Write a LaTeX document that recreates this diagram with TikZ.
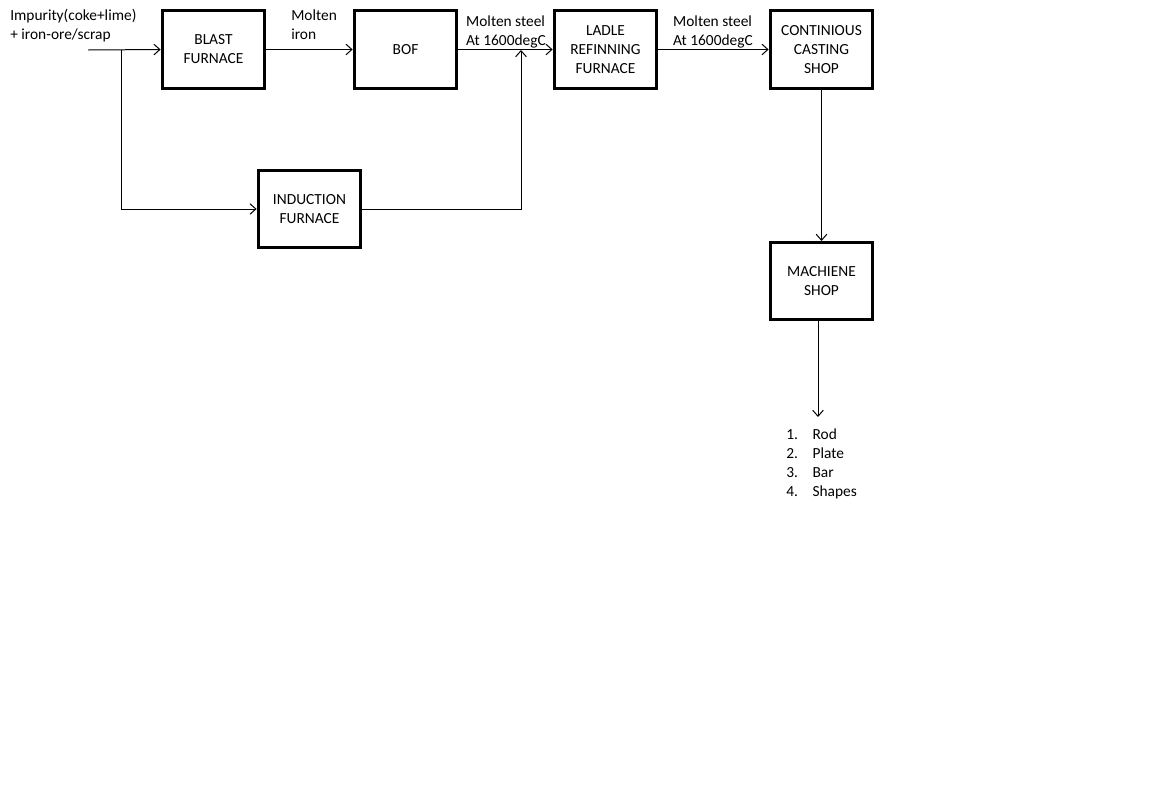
\documentclass[tikz,border=0pt]{standalone}
\usepackage{fontspec}
\setmainfont{Carlito}
\usepackage{tikz}
\usetikzlibrary{arrows.meta}

\begin{document}
\begin{tikzpicture}[x=0.02646cm,y=-0.02646cm,
  font=\fontsize{11.6}{14.3}\selectfont,
  unit/.style={draw,line width=2.2pt,minimum width=2.72cm,minimum height=2.04cm,align=center,inner sep=1pt},
  flow/.style={line width=0.75pt,-{Straight Barb[length=4.5pt,width=8pt,line width=0.75pt]}},
  note/.style={inner sep=0pt,align=left}]
\useasboundingbox (0,0) rectangle (1171,789);

% process units
\node[unit] (blast) at (213.5,49.5) {BLAST\\FURNACE};
\node[unit] (bof) at (405.5,49.5) {BOF};
\node[unit] (ladle) at (605.5,49.5) {LADLE\\REFINNING\\FURNACE};
\node[unit] (cast) at (821.5,49.5) {CONTINIOUS\\CASTING\\SHOP};
\node[unit] (induction) at (309.5,209) {INDUCTION\\FURNACE};
\node[unit] (machine) at (821.5,281) {MACHIENE\\SHOP};

% labels
\node[note,anchor=west] (feed) at (10,26) {Impurity(coke+lime)\\+ iron-ore/scrap};
\node[note,anchor=west] (iron) at (291,24.5) {Molten\\iron};
\node[note] (steel1) at (506,32) {Molten steel\\At 1600degC};
\node[note] (steel2) at (713,32) {Molten steel\\At 1600degC};
\node[note,anchor=west] (products) at (786,464.5) {\begin{tabular}{@{}l@{\hspace{11pt}}l@{}}
1. & Rod\\
2. & Plate\\
3. & Bar\\
4. & Shapes
\end{tabular}};

\coordinate (in) at (88,50);
\coordinate (split) at (121,50);
\coordinate (join) at (521,50);
\coordinate (out) at (818,417);

% connectors
\draw[flow] (in) -- (blast.west);
\draw[flow] (split) |- (induction.west);
\draw[flow] (blast.east) -- (bof.west);
\draw[flow] (bof.east) -- (ladle.west);
\draw[flow] (induction.east) -| (join);
\draw[flow] (ladle.east) -- (cast.west);
\draw[flow] (cast.south) -- (machine.north);
\draw[flow] (out |- machine.south) -- (out);
\end{tikzpicture}
\end{document}
